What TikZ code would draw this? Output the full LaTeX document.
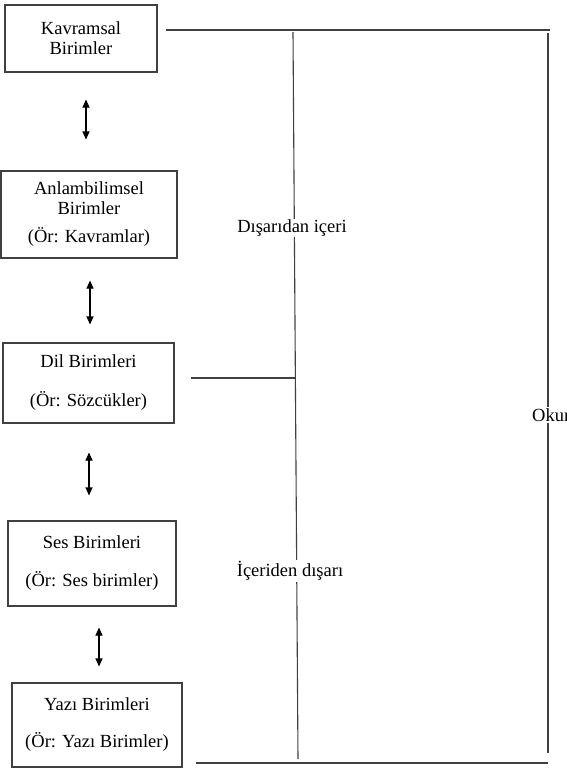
\documentclass[tikz,border=0pt]{standalone}
\usepackage{fontspec}
\setmainfont{Liberation Serif}
\usepackage{tikz}
\usetikzlibrary{arrows.meta}

\begin{document}
\begin{tikzpicture}[x=1pt,y=-1pt,
  birim/.style={draw=black!75,line width=1.1pt,align=center,inner sep=0pt,font=\fontsize{18.5}{20}\selectfont},
  cizgi/.style={draw=black!75,line width=1.1pt},
  oklar/.style={line width=1.1pt,{Triangle[width=7pt,length=8pt]}-{Triangle[width=7pt,length=8pt]}},
  etiket/.style={fill=white,inner sep=1pt,font=\fontsize{18.5}{20}\selectfont}]
\useasboundingbox (0,0) rectangle (567,774);
\node[birim,minimum width=152pt,minimum height=67pt] (kavram) at (81,38.5) {Kavramsal\\Birimler};
\node[birim,minimum width=176pt,minimum height=87pt] (anlam) at (89,214.5) {Anlambilimsel\\Birimler\\[8pt](Ör: Kavramlar)};
\node[birim,minimum width=171pt,minimum height=80pt] (dil) at (88.5,383) {Dil Birimleri\\[19pt](Ör: Sözcükler)};
\node[birim,minimum width=168pt,minimum height=85pt] (ses) at (92,563.5) {Ses Birimleri\\[18pt](Ör: Ses birimler)};
\node[birim,minimum width=170pt,minimum height=84pt] (yazi) at (97,725) {Yazı Birimleri\\[17pt](Ör: Yazı Birimler)};
\draw[oklar,shorten <=27pt,shorten >=31pt] ([xshift=5pt]kavram.south) -- ([xshift=-3pt]anlam.north);
\draw[oklar,shorten <=22pt,shorten >=18pt] ([xshift=1pt]anlam.south) -- ([xshift=1.5pt]dil.north);
\draw[oklar,shorten <=29pt,shorten >=25pt] ([xshift=0.5pt]dil.south) -- ([xshift=-3pt]ses.north);
\draw[oklar,shorten <=21pt,shorten >=16pt] ([xshift=7pt]ses.south) -- ([xshift=2pt]yazi.north);
\coordinate (ustSag) at (550,30);
\coordinate (ortaUst) at (293,32);
\coordinate (ortaAlt) at (298,759);
\coordinate (sagUst) at (548,33);
\coordinate (sagAlt) at (548,753);
\coordinate (altSag) at (548,763);
\draw[cizgi] ([xshift=8pt,yshift=8.5pt]kavram.east) -- (ustSag);
\draw[cizgi] ([xshift=16pt,yshift=5pt]dil.east) -- ++(104,0);
\draw[cizgi] (ortaUst) -- (ortaAlt);
\draw[cizgi] (sagUst) -- (sagAlt);
\draw[cizgi] ([xshift=13pt,yshift=-38pt]yazi.east) -- (altSag);
\node[etiket] (disIc) at (292,228) {Dışarıdan içeri};
\node[etiket] (icDis) at (290,571) {İçeriden dışarı};
\node[etiket,anchor=west] (okur) at (531,415) {Okur};
\end{tikzpicture}
\end{document}
